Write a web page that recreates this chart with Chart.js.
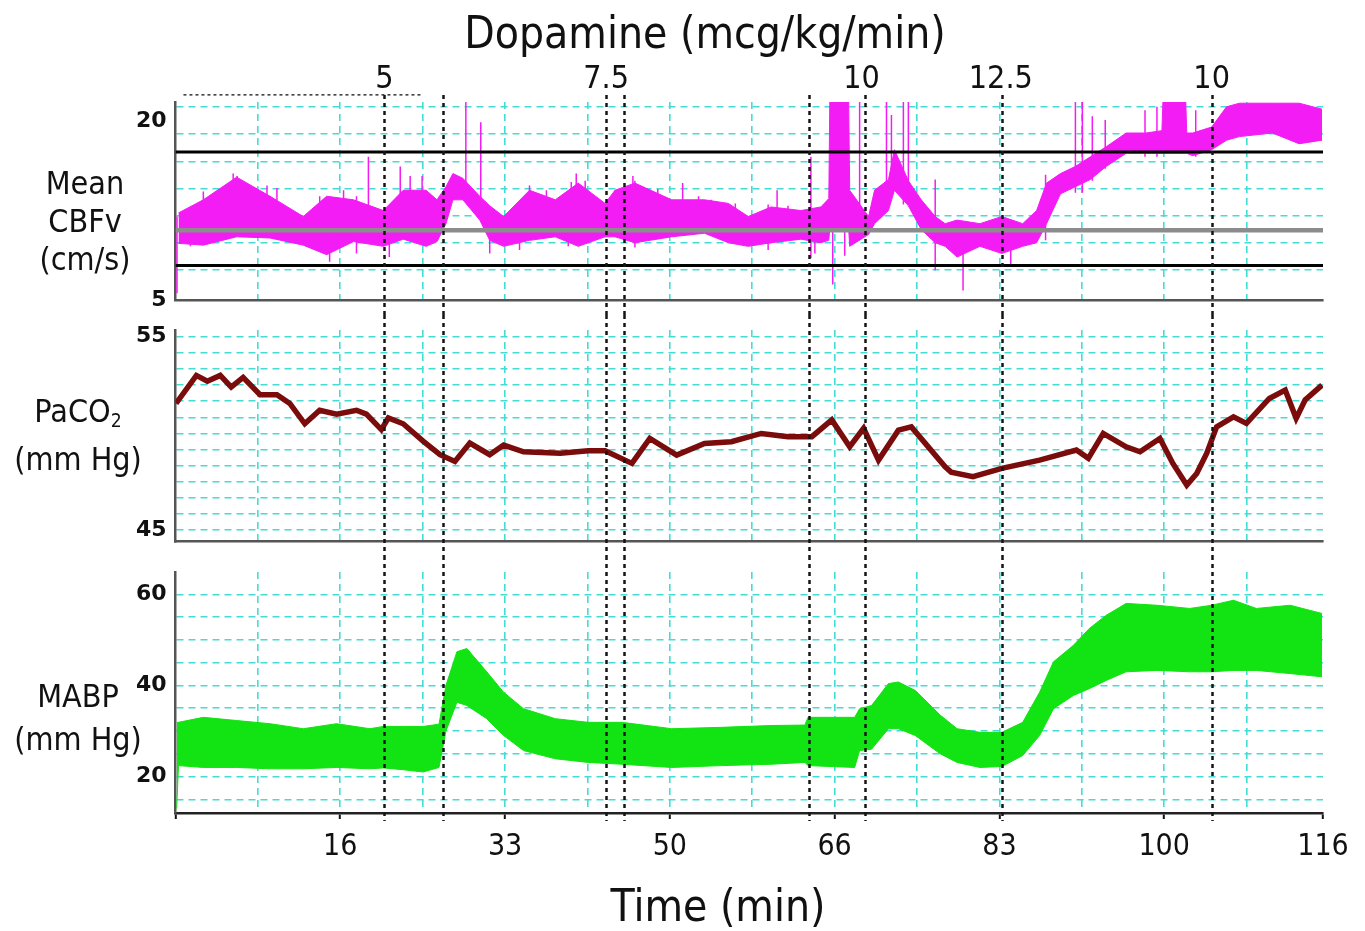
<!DOCTYPE html>
<html>
<head>
<meta charset="utf-8">
<script src="https://cdn.jsdelivr.net/npm/chart.js@4.4.0/dist/chart.umd.min.js"></script>
<style>
  body { margin: 0; background: #fff; }
  #wrap { position: relative; width: 1365px; height: 931px; overflow: hidden; color: #111;
          font-family: "DejaVu Sans Condensed", "DejaVu Sans", sans-serif; font-stretch: condensed; }
  canvas { position: absolute; left: 0; }
  .lbl { position: absolute; text-align: center; line-height: 1; white-space: nowrap; }
  .side { width: 160px; font-size: 32px; }
  sub { font-size: 0.6em; vertical-align: -0.25em; line-height: 0; }
</style>
</head>
<body>
<div id="wrap">
  <canvas id="cbfChart" width="1365" height="315" style="top:0"></canvas>
  <canvas id="pacoChart" width="1365" height="241" style="top:315px"></canvas>
  <canvas id="mabpChart" width="1365" height="375" style="top:556px"></canvas>

  <div class="lbl" style="left:455px; width:500px; top:11px; font-size:44px;">Dopamine (mcg/kg/min)</div>

  <div class="lbl side" style="left:5px; top:167px;">Mean</div>
  <div class="lbl side" style="left:5px; top:205px;">CBFv</div>
  <div class="lbl side" style="left:5px; top:243px;">(cm/s)</div>

  <div class="lbl side" style="left:-2px; top:395px;">PaCO<sub>2</sub></div>
  <div class="lbl side" style="left:-2px; top:443px;">(mm Hg)</div>

  <div class="lbl side" style="left:-2px; top:680px;">MABP</div>
  <div class="lbl side" style="left:-2px; top:723px;">(mm Hg)</div>

  <div class="lbl" style="left:468px; width:500px; top:884px; font-size:44px;">Time (min)</div>
</div>

<script>
// time axis (minutes)
const xMin = 0;
const xMax = 115.4;
const xTickValues = [16.57, 33.14, 49.71, 66.29, 82.86, 99.43, 115.4];
const xTickLabels = ['16', '33', '50', '66', '83', '100', '116'];

// dopamine dose changes
const doseLineTimes = [21.0, 26.9, 43.3, 45.1, 63.7, 69.3, 83.1, 104.2];
const doseLabelTimes = [21.0, 43.3, 69.0, 83.0, 104.2];
const doseLabels = ['5', '7.5', '10', '12.5', '10'];

// Mean CBFv (cm/s): envelope of the trace
const cbfTimes = [0.3, 2.8, 6.15, 9.5, 12.85, 15.2, 17.9, 20.9, 22.9, 25.2, 26.3, 27.2, 27.9, 28.9, 30.6, 31.6,
  33.0, 35.6, 38.2, 40.5, 43.2, 44.2, 46.2, 49.9, 53.2, 55.6, 57.6, 59.9, 62.9, 64.9, 65.7, 65.8, 67.7, 67.8,
  69.7, 70.3, 71.7, 72.3, 73.7, 75.0, 76.4, 77.4, 78.6, 80.9, 83.1, 85.2, 86.6, 87.6, 89.0, 90.5, 92.0, 93.6,
  95.6, 97.6, 99.2, 99.3, 101.6, 101.7, 102.3, 104.2, 105.7, 107.0, 110.3, 113.0, 115.3];
const cbfUpper = [12.3, 13.4, 15.3, 13.7, 12.0, 13.7, 13.4, 12.5, 14.2, 14.2, 13.4, 14.5, 15.6, 15.2, 13.7, 12.9,
  12.0, 14.2, 13.4, 14.8, 13.1, 14.2, 14.8, 13.4, 13.4, 13.1, 12.0, 12.8, 12.5, 12.8, 13.5, 21.6, 21.6, 14.2,
  12.0, 14.2, 15.1, 17.6, 15.0, 13.4, 12.0, 11.4, 11.7, 11.4, 12.0, 11.4, 12.5, 14.8, 15.6, 16.2, 17.0, 17.85,
  19.0, 19.0, 19.2, 21.6, 21.6, 19.0, 19.0, 19.5, 21.2, 21.5, 21.5, 21.5, 21.0];
const cbfLower = [9.75, 9.6, 10.3, 10.2, 9.6, 8.8, 9.9, 9.5, 10.1, 9.5, 9.9, 11.4, 13.4, 13.4, 11.7, 10.0,
  9.5, 10.0, 10.3, 9.5, 10.3, 10.3, 9.8, 10.3, 10.6, 9.8, 9.5, 9.8, 10.1, 9.8, 10.0, 11.0, 11.0, 9.5,
  10.5, 11.4, 12.5, 14.2, 12.9, 10.9, 9.8, 9.5, 8.6, 9.5, 8.9, 9.5, 9.8, 11.4, 13.9, 14.5, 15.1, 16.2,
  17.3, 17.3, 17.3, 17.3, 17.3, 17.3, 17.1, 17.6, 18.4, 18.7, 19.0, 18.1, 18.4];
// single artefact spikes
const cbfSpikeTimes = [0.15, 1.5, 2.8, 5.8, 6.2, 9.2, 10.2, 14.5, 15.5, 16.9, 18.2, 19.4, 21.5, 22.6, 23.6, 24.8,
  29.2, 30.7, 31.6, 34.6, 35.6, 37.3, 39.5, 39.8, 40.3, 41.2, 44.2, 46.0, 46.2, 48.5, 51.0, 52.6, 53.9, 56.3,
  59.6, 60.5, 61.6, 63.9, 64.3, 66.1, 67.3, 68.8, 71.5, 72.0, 73.2, 73.7, 76.4, 79.2, 84.0, 87.5, 90.5, 91.2,
  92.2, 93.5, 97.5, 98.7, 102.6];
const cbfSpikeLow = [5.56, 9.5, 11.0, 11.5, 12.0, 11.0, 11.0, 10.5, 8.2, 10.5, 8.9, 12.0, 8.6, 12.0, 11.0, 11.0,
  14.0, 12.0, 8.9, 9.2, 11.0, 11.0, 9.5, 11.0, 10.0, 11.0, 11.0, 10.0, 9.4, 11.0, 10.5, 11.0, 11.0, 11.0,
  9.2, 10.0, 11.0, 8.5, 8.9, 6.3, 8.7, 10.0, 13.0, 14.0, 13.0, 13.0, 7.5, 5.8, 7.8, 10.0, 14.0, 14.0,
  15.0, 16.0, 17.0, 17.0, 17.0];
const cbfSpikeHigh = [12.0, 11.0, 14.1, 15.6, 15.4, 14.6, 14.4, 13.7, 11.0, 14.2, 13.7, 17.0, 11.0, 16.2, 15.4, 15.4,
  21.6, 19.9, 11.0, 11.0, 14.6, 14.2, 11.0, 14.9, 15.6, 15.0, 14.2, 15.4, 15.0, 14.3, 14.8, 13.7, 13.4, 13.1,
  13.0, 14.2, 12.9, 17.0, 11.0, 12.0, 12.0, 21.6, 21.6, 20.5, 21.6, 21.6, 15.1, 9.5, 10.0, 15.5, 21.6, 21.6,
  20.4, 20.1, 20.9, 21.2, 20.9];
const cbfUpperLimit = 17.4;
const cbfLowerLimit = 7.9;
const cbfBaseline = 10.85;
const cbfHeaderTrace = [0.8, 24.8];
const cbfHeaderLevel = 22.2;

// PaCO2 (mm Hg)
const pacoTimes = [0.05, 2.1, 3.2, 4.5, 5.6, 6.8, 8.5, 10.2, 11.5, 13.0, 14.5, 16.2, 18.2, 19.2, 20.7, 21.4,
  22.9, 24.9, 26.6, 28.1, 29.6, 31.6, 33.0, 35.0, 38.7, 41.5, 43.2, 45.9, 47.7, 50.4, 53.2, 55.9, 58.9, 61.6,
  64.0, 66.0, 67.8, 69.2, 70.7, 72.7, 74.0, 77.4, 78.0, 80.2, 83.1, 86.9, 90.6, 91.8, 93.3, 95.6, 97.0, 99.0,
  100.3, 101.7, 102.7, 103.7, 104.7, 106.4, 107.7, 110.0, 111.6, 112.7, 113.6, 115.3];
const pacoValues = [51.55, 53.0, 52.7, 53.0, 52.4, 52.9, 52.0, 52.0, 51.55, 50.5, 51.2, 51.0, 51.2, 51.0, 50.2, 50.8,
  50.5, 49.6, 48.9, 48.55, 49.5, 48.9, 49.4, 49.05, 48.97, 49.1, 49.1, 48.45, 49.74, 48.88, 49.48, 49.57, 50.0, 49.83,
  49.83, 50.7, 49.31, 50.26, 48.62, 50.17, 50.34, 48.27, 48.0, 47.76, 48.19, 48.62, 49.14, 48.71, 50.0, 49.31, 49.05, 49.74,
  48.45, 47.33, 47.93, 48.97, 50.34, 50.86, 50.52, 51.81, 52.24, 50.78, 51.73, 52.5];

// MABP (mm Hg): envelope of the trace
const mabpTimes = [0.12, 0.3, 2.8, 6.15, 9.5, 12.85, 16.2, 19.55, 20.9, 22.9, 24.9, 26.5, 27.2, 28.3, 29.3, 31.3,
  33.0, 35.0, 38.2, 41.5, 44.9, 49.9, 54.9, 59.9, 63.3, 63.6, 68.3, 68.8, 70.0, 71.7, 72.7, 74.4, 76.9, 78.6,
  80.9, 83.1, 85.2, 86.9, 88.3, 90.3, 91.9, 93.6, 95.6, 98.7, 102.0, 104.2, 106.4, 108.7, 112.1, 115.3];
const mabpUpper = [31.9, 31.9, 33.0, 32.3, 31.6, 30.5, 31.6, 30.5, 31.0, 31.0, 31.0, 31.5, 40.0, 47.4, 48.1, 43.0,
  38.5, 34.9, 32.7, 31.9, 31.9, 30.5, 30.8, 31.2, 31.3, 33.0, 33.0, 34.9, 35.6, 40.4, 40.75, 38.9, 33.5, 30.5,
  29.7, 29.7, 31.9, 38.5, 45.2, 48.8, 52.5, 55.4, 58.0, 57.6, 56.9, 57.6, 58.7, 56.9, 57.6, 55.8];
const mabpLower = [13.0, 22.4, 22.0, 22.0, 21.7, 21.7, 22.0, 21.7, 21.9, 21.5, 21.0, 22.0, 30.0, 36.3, 35.6, 32.7,
  29.0, 25.7, 23.9, 23.1, 22.7, 22.0, 22.4, 22.7, 23.1, 22.4, 22.0, 25.7, 26.0, 30.5, 30.5, 29.0, 25.0, 23.1,
  22.0, 22.2, 24.6, 29.0, 34.9, 37.8, 39.3, 41.1, 43.0, 43.3, 43.0, 43.0, 43.3, 43.3, 42.6, 41.9];

const MAGENTA = '#f41cf4';
const MAROON = '#7a0c0c';
const GREEN = '#12e312';
const CYAN = '#45dcd6';
const TEXT_FONT = '"DejaVu Sans Condensed", "DejaVu Sans", sans-serif';
const xGridStep = 116 / 14;

const toPoints = (xs, ys) => xs.map((x, i) => ({ x: x, y: ys[i] }));
const isLabelTick = v => xTickValues.some(t => Math.abs(t - v) < 0.02);

function makeX(showLabels, height, borderColor) {
  return {
    type: 'linear', min: xMin, max: xMax, offset: false,
    afterBuildTicks: scale => {
      const ticks = [];
      for (let k = 0; k * xGridStep < xMax - 0.5; k++) ticks.push({ value: k * xGridStep });
      ticks.push({ value: xMax });
      scale.ticks = ticks;
    },
    afterFit: scale => { scale.height = height; },
    ticks: {
      display: showLabels, autoSkip: false, maxRotation: 0, minRotation: 0, padding: 10,
      color: '#111', font: { family: TEXT_FONT, size: 30 },
      callback: v => {
        const i = xTickValues.findIndex(t => Math.abs(t - v) < 0.02);
        return i >= 0 ? xTickLabels[i] : '';
      }
    },
    grid: {
      drawTicks: showLabels, tickLength: 6, tickWidth: 2,
      tickColor: ctx => (ctx.tick && (ctx.tick.value < 0.01 || isLabelTick(ctx.tick.value))) ? '#111' : 'transparent',
      color: ctx => (ctx.tick && ctx.tick.value > 0.01 && ctx.tick.value < xMax - 0.01) ? CYAN : 'transparent',
      lineWidth: 1.6
    },
    border: { color: borderColor, width: 2.5, dash: [7, 5] }
  };
}

function makeY(min, max, labels, gridStart, gridStep, gridCount) {
  const gridVals = [];
  for (let i = 0; i < gridCount; i++) gridVals.push(gridStart + i * gridStep);
  const isGrid = v => gridVals.some(g => Math.abs(g - v) < 1e-6);
  const labelOf = v => labels.find(l => Math.abs(l - v) < 1e-6);
  return {
    type: 'linear', min: min, max: max,
    afterFit: scale => {
      // fixed axis width; let edge labels overflow instead of shrinking the plot
      scale.width = 175.5;
      scale.paddingTop = 0;
      scale.paddingBottom = 0;
    },
    afterBuildTicks: scale => {
      const vals = gridVals.slice();
      labels.forEach(l => { if (!isGrid(l)) vals.push(l); });
      vals.sort((a, b) => a - b);
      scale.ticks = vals.map(v => ({ value: v }));
    },
    ticks: {
      autoSkip: false, padding: 9, color: '#111',
      font: { family: 'DejaVu Sans', weight: 'bold', size: 22 },
      callback: v => { const l = labelOf(v); return l === undefined ? '' : String(l); }
    },
    grid: {
      drawTicks: false, lineWidth: 1.6,
      color: ctx => (ctx.tick && isGrid(ctx.tick.value)) ? CYAN : 'transparent'
    },
    border: { color: '#555', width: 2.5, dash: [7, 5] }
  };
}

// dotted dose lines running through all panels, plus the dose labels on top
const doseLinesPlugin = {
  id: 'doseLines',
  afterDatasetsDraw(chart, args, opts) {
    const { ctx } = chart;
    const x = chart.scales.x;
    ctx.save();
    ctx.strokeStyle = '#151515';
    ctx.lineWidth = 2.5;
    ctx.setLineDash([4, 4]);
    doseLineTimes.forEach(t => {
      const px = Math.round(x.getPixelForValue(t)) + 0.5;
      ctx.beginPath();
      ctx.moveTo(px, opts.top);
      ctx.lineTo(px, opts.bottom);
      ctx.stroke();
    });
    if (opts.labels) {
      ctx.setLineDash([]);
      ctx.fillStyle = '#111';
      ctx.font = '32px ' + TEXT_FONT;
      ctx.textAlign = 'center';
      ctx.textBaseline = 'middle';
      doseLabelTimes.forEach((t, i) => {
        ctx.fillText(doseLabels[i], x.getPixelForValue(t), opts.labelY);
      });
    }
    ctx.restore();
  }
};

function baseOptions(padding, xCfg, yCfg, doseOpts) {
  return {
    responsive: false,
    devicePixelRatio: 1,
    animation: false,
    events: [],
    layout: { padding: padding },
    elements: { point: { radius: 0 }, line: { tension: 0 } },
    plugins: { legend: { display: false }, tooltip: { enabled: false }, doseLines: doseOpts },
    scales: { x: xCfg, y: yCfg }
  };
}

const flatLine = v => [{ x: xMin, y: v }, { x: xMax, y: v }];
const spikePoints = cbfSpikeTimes.flatMap((t, i) => [
  { x: t, y: cbfSpikeLow[i] }, { x: t, y: cbfSpikeHigh[i] }, { x: t, y: null }
]);

new Chart(document.getElementById('cbfChart'), {
  type: 'line',
  data: {
    datasets: [
      { label: 'upper limit', data: flatLine(cbfUpperLimit), borderColor: '#000', borderWidth: 3, order: 0 },
      { label: 'lower limit', data: flatLine(cbfLowerLimit), borderColor: '#000', borderWidth: 3, order: 0 },
      { label: 'baseline', data: flatLine(cbfBaseline), borderColor: '#8c8c8c', borderWidth: 4.5, order: 0 },
      { label: 'CBFv spikes', data: spikePoints, borderColor: MAGENTA, borderWidth: 1.5, spanGaps: false, order: 2 },
      { label: 'CBFv max', data: toPoints(cbfTimes, cbfUpper), borderColor: MAGENTA, borderWidth: 1,
        backgroundColor: MAGENTA, fill: '+1', order: 3 },
      { label: 'CBFv min', data: toPoints(cbfTimes, cbfLower), borderColor: MAGENTA, borderWidth: 1, fill: false, order: 3 },
      { label: 'header', data: cbfHeaderTrace.map(t => ({ x: t, y: cbfHeaderLevel })), borderColor: '#333',
        borderWidth: 1.5, borderDash: [3, 3], clip: false, order: 1 }
    ]
  },
  options: baseOptions({ top: 102, right: 42, bottom: 15, left: 0 },
    makeX(false, 0, '#555'), makeY(5, 21.6, [5, 20], 7.5, 2.28, 7),
    { top: 95, bottom: 315, labels: true, labelY: 80 }),
  plugins: [doseLinesPlugin]
});

new Chart(document.getElementById('pacoChart'), {
  type: 'line',
  data: {
    datasets: [
      { label: 'PaCO2', data: toPoints(pacoTimes, pacoValues), borderColor: MAROON, borderWidth: 5.5, fill: false }
    ]
  },
  options: baseOptions({ top: 15, right: 42, bottom: 14.3, left: 0 },
    makeX(false, 0, '#555'), makeY(44.4, 55.35, [45, 55], 45, 10 / 12, 13),
    { top: 0, bottom: 241, labels: false }),
  plugins: [doseLinesPlugin]
});

new Chart(document.getElementById('mabpChart'), {
  type: 'line',
  data: {
    datasets: [
      { label: 'MABP max', data: toPoints(mabpTimes, mabpUpper), borderColor: GREEN, borderWidth: 1,
        backgroundColor: GREEN, fill: '+1' },
      { label: 'MABP min', data: toPoints(mabpTimes, mabpLower), borderColor: GREEN, borderWidth: 1, fill: false }
    ]
  },
  options: baseOptions({ top: 16, right: 42, bottom: 58, left: 0 },
    makeX(true, 60, '#222'), makeY(12.0, 64.9, [20, 40, 60], 15, 5, 10),
    { top: 0, bottom: 265, labels: false }),
  plugins: [doseLinesPlugin]
});
</script>
</body>
</html>
